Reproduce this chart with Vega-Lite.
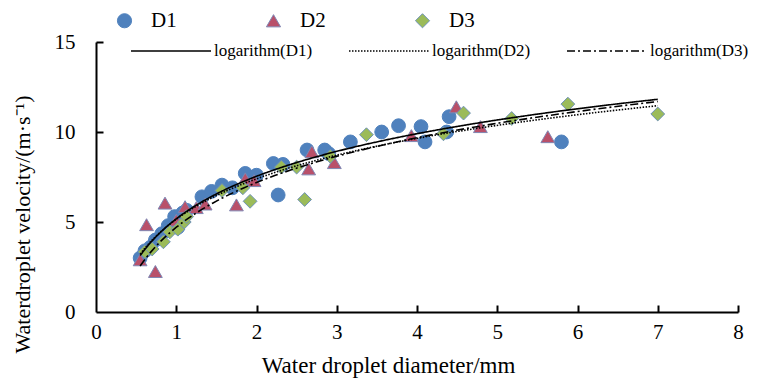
{
  "$schema": "https://vega.github.io/schema/vega-lite/v6.json",
  "autosize": "none",
  "width": 642,
  "height": 270,
  "padding": {"left": 96, "top": 42, "right": 26, "bottom": 71},
  "background": "white",
  "config": {
    "view": {"stroke": null},
    "font": "Liberation Serif",
    "axis": {"grid": false, "domainColor": "black", "domainWidth": 2, "tickColor": "black", "tickWidth": 2, "labelColor": "black", "titleColor": "black", "labelFont": "Liberation Serif", "titleFont": "Liberation Serif", "titleFontWeight": "normal", "labelFontSize": 21, "titleFontSize": 21},
    "legend": {"labelFont": "Liberation Serif", "labelColor": "black"}
  },
  "resolve": {"axis": {"x": "independent", "y": "independent"}},
  "data": {"values": [
    {"series": "D1", "fit": "logarithm(D1)", "d": 0.55, "v": 3.0},
    {"series": "D1", "fit": "logarithm(D1)", "d": 0.61, "v": 3.4},
    {"series": "D1", "fit": "logarithm(D1)", "d": 0.68, "v": 3.6},
    {"series": "D1", "fit": "logarithm(D1)", "d": 0.74, "v": 4.0},
    {"series": "D1", "fit": "logarithm(D1)", "d": 0.82, "v": 4.35},
    {"series": "D1", "fit": "logarithm(D1)", "d": 0.9, "v": 4.8},
    {"series": "D1", "fit": "logarithm(D1)", "d": 0.98, "v": 5.3},
    {"series": "D1", "fit": "logarithm(D1)", "d": 1.02, "v": 4.7},
    {"series": "D1", "fit": "logarithm(D1)", "d": 1.08, "v": 5.5},
    {"series": "D1", "fit": "logarithm(D1)", "d": 1.13, "v": 5.65},
    {"series": "D1", "fit": "logarithm(D1)", "d": 1.32, "v": 6.4},
    {"series": "D1", "fit": "logarithm(D1)", "d": 1.44, "v": 6.7},
    {"series": "D1", "fit": "logarithm(D1)", "d": 1.57, "v": 7.05},
    {"series": "D1", "fit": "logarithm(D1)", "d": 1.7, "v": 6.9},
    {"series": "D1", "fit": "logarithm(D1)", "d": 1.86, "v": 7.7},
    {"series": "D1", "fit": "logarithm(D1)", "d": 2.0, "v": 7.6},
    {"series": "D1", "fit": "logarithm(D1)", "d": 2.21, "v": 8.25},
    {"series": "D1", "fit": "logarithm(D1)", "d": 2.33, "v": 8.2},
    {"series": "D1", "fit": "logarithm(D1)", "d": 2.27, "v": 6.5},
    {"series": "D1", "fit": "logarithm(D1)", "d": 2.63, "v": 9.0},
    {"series": "D1", "fit": "logarithm(D1)", "d": 2.85, "v": 9.0},
    {"series": "D1", "fit": "logarithm(D1)", "d": 2.9, "v": 8.8},
    {"series": "D1", "fit": "logarithm(D1)", "d": 3.17, "v": 9.45},
    {"series": "D1", "fit": "logarithm(D1)", "d": 3.56, "v": 10.0},
    {"series": "D1", "fit": "logarithm(D1)", "d": 3.77, "v": 10.35},
    {"series": "D1", "fit": "logarithm(D1)", "d": 4.05, "v": 10.3},
    {"series": "D1", "fit": "logarithm(D1)", "d": 4.1, "v": 9.45},
    {"series": "D1", "fit": "logarithm(D1)", "d": 4.37, "v": 10.0},
    {"series": "D1", "fit": "logarithm(D1)", "d": 4.4, "v": 10.85},
    {"series": "D1", "fit": "logarithm(D1)", "d": 5.8, "v": 9.45},
    {"series": "D2", "fit": "logarithm(D2)", "d": 0.55, "v": 2.9},
    {"series": "D2", "fit": "logarithm(D2)", "d": 0.63, "v": 4.85},
    {"series": "D2", "fit": "logarithm(D2)", "d": 0.74, "v": 2.25},
    {"series": "D2", "fit": "logarithm(D2)", "d": 0.86, "v": 6.05},
    {"series": "D2", "fit": "logarithm(D2)", "d": 1.0, "v": 5.1},
    {"series": "D2", "fit": "logarithm(D2)", "d": 1.11, "v": 5.85},
    {"series": "D2", "fit": "logarithm(D2)", "d": 1.25, "v": 5.8},
    {"series": "D2", "fit": "logarithm(D2)", "d": 1.36, "v": 6.0},
    {"series": "D2", "fit": "logarithm(D2)", "d": 1.75, "v": 5.95},
    {"series": "D2", "fit": "logarithm(D2)", "d": 1.86, "v": 7.4},
    {"series": "D2", "fit": "logarithm(D2)", "d": 1.97, "v": 7.3},
    {"series": "D2", "fit": "logarithm(D2)", "d": 2.65, "v": 7.95},
    {"series": "D2", "fit": "logarithm(D2)", "d": 2.69, "v": 8.9},
    {"series": "D2", "fit": "logarithm(D2)", "d": 2.97, "v": 8.3},
    {"series": "D2", "fit": "logarithm(D2)", "d": 3.93, "v": 9.8},
    {"series": "D2", "fit": "logarithm(D2)", "d": 4.49, "v": 11.4},
    {"series": "D2", "fit": "logarithm(D2)", "d": 4.79, "v": 10.3},
    {"series": "D2", "fit": "logarithm(D2)", "d": 5.63, "v": 9.74},
    {"series": "D3", "fit": "logarithm(D3)", "d": 0.61, "v": 3.35},
    {"series": "D3", "fit": "logarithm(D3)", "d": 0.7, "v": 3.5},
    {"series": "D3", "fit": "logarithm(D3)", "d": 0.84, "v": 3.9},
    {"series": "D3", "fit": "logarithm(D3)", "d": 0.92, "v": 4.45},
    {"series": "D3", "fit": "logarithm(D3)", "d": 1.02, "v": 4.6},
    {"series": "D3", "fit": "logarithm(D3)", "d": 1.1, "v": 5.0},
    {"series": "D3", "fit": "logarithm(D3)", "d": 1.13, "v": 5.3},
    {"series": "D3", "fit": "logarithm(D3)", "d": 1.57, "v": 6.75},
    {"series": "D3", "fit": "logarithm(D3)", "d": 1.83, "v": 6.9},
    {"series": "D3", "fit": "logarithm(D3)", "d": 1.92, "v": 6.15},
    {"series": "D3", "fit": "logarithm(D3)", "d": 2.31, "v": 8.05},
    {"series": "D3", "fit": "logarithm(D3)", "d": 2.5, "v": 8.05},
    {"series": "D3", "fit": "logarithm(D3)", "d": 2.6, "v": 6.25},
    {"series": "D3", "fit": "logarithm(D3)", "d": 2.92, "v": 8.65},
    {"series": "D3", "fit": "logarithm(D3)", "d": 3.37, "v": 9.85},
    {"series": "D3", "fit": "logarithm(D3)", "d": 4.33, "v": 9.9},
    {"series": "D3", "fit": "logarithm(D3)", "d": 4.58, "v": 11.05},
    {"series": "D3", "fit": "logarithm(D3)", "d": 5.18, "v": 10.75},
    {"series": "D3", "fit": "logarithm(D3)", "d": 5.88, "v": 11.55},
    {"series": "D3", "fit": "logarithm(D3)", "d": 7.0, "v": 11.0}
  ]},
  "layer": [
    {
      "mark": {"type": "point", "filled": true, "opacity": 1, "strokeWidth": 1},
      "encoding": {
        "x": {"field": "d", "type": "quantitative", "scale": {"domain": [0, 8], "nice": false, "zero": false},
          "axis": {"title": "Water droplet diameter/mm", "values": [0,1,2,3,4,5,6,7,8], "format": "d", "ticks": false, "labelPadding": 9, "labelFont": "Liberation Serif", "labelFontSize": 21, "titleFont": "Liberation Serif", "titleFontSize": 23, "titlePadding": 12, "titleX": 292, "labelFlush": false}},
        "y": {"field": "v", "type": "quantitative", "scale": {"domain": [0, 15], "nice": false},
          "axis": {"title": "Waterdroplet velocity/(m·s⁻¹)", "values": [0,5,10,15], "format": "d", "ticks": false, "labelPadding": 21, "labelFont": "Liberation Serif", "labelFontSize": 21, "titleFont": "Liberation Serif", "titleFontSize": 22, "titleX": -74, "titleY": 182, "titleAngle": -90, "titleAlign": "center", "titleBaseline": "middle", "labelFlush": false}},
        "shape": {"field": "series", "type": "nominal", "scale": {"domain": ["D1","D2","D3"], "range": ["circle","triangle-up","diamond"]},
          "legend": {"orient": "none", "legendX": 18, "legendY": -32, "direction": "horizontal", "title": null, "labelFontSize": 21, "symbolSize": 200, "labelOffset": 16, "columnPadding": 86, "symbolStrokeWidth": 1}},
        "color": {"field": "series", "type": "nominal", "scale": {"domain": ["D1","D2","D3"], "range": ["#4F81BD","#B9506A","#9BBB59"]}, "legend": {"orient": "none", "legendX": 18, "legendY": -32, "direction": "horizontal", "title": null}},
        "stroke": {"field": "series", "type": "nominal", "scale": {"domain": ["D1","D2","D3"], "range": ["#4F81BD","#7F86B3","#6F93B8"]}, "legend": {"orient": "none", "legendX": 18, "legendY": -32, "direction": "horizontal", "title": null}},
        "size": {"value": 190}
      }
    },
    {
      "transform": [{"regression": "v", "on": "d", "method": "log", "groupby": ["fit"], "extent": [0.55, 7]}],
      "mark": {"type": "line", "color": "black", "strokeWidth": 1.6},
      "encoding": {
        "x": {"field": "d", "type": "quantitative",
          "axis": {"orient": "top", "offset": -270, "values": [1,2,3,4,5,6,7,8], "labels": false, "domain": false, "title": null, "ticks": true, "tickSize": 7, "tickWidth": 2, "tickColor": "black"}},
        "y": {"field": "v", "type": "quantitative",
          "axis": {"orient": "right", "offset": -642, "values": [5,10,15], "labels": false, "domain": false, "title": null, "ticks": true, "tickSize": 7, "tickWidth": 2, "tickColor": "black"}},
        "strokeDash": {"field": "fit", "type": "nominal", "scale": {"domain": ["logarithm(D1)","logarithm(D2)","logarithm(D3)"], "range": [[1,0],[1.5,1.5],[8,3,2,3]]},
          "legend": {"orient": "none", "legendX": 34, "legendY": -32, "direction": "horizontal", "title": null, "symbolType": "stroke", "symbolSize": 6400, "symbolStrokeColor": "black", "symbolStrokeWidth": 1.6, "labelFontSize": 17, "labelOffset": 2, "columnPadding": 32}}
      }
    }
  ]
}
